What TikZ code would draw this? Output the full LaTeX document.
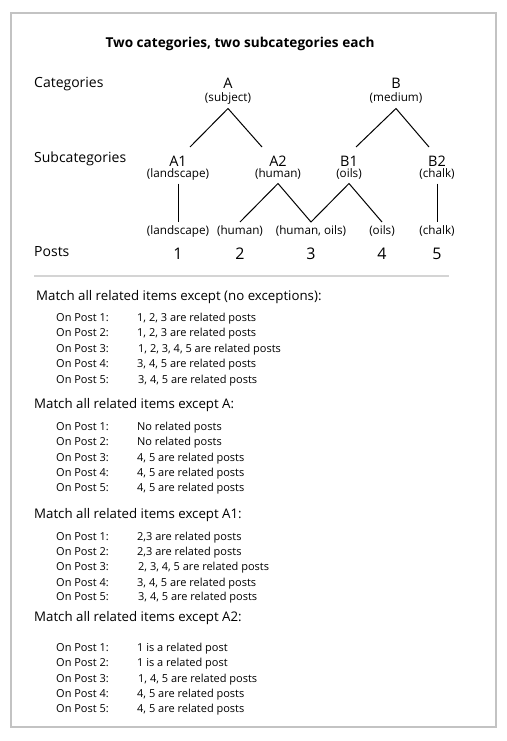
\documentclass[tikz,border=0pt]{standalone}
\usepackage{fontspec}
\setmainfont{Open Sans}
\definecolor{framegray}{RGB}{195,195,195}
\definecolor{rulegray}{RGB}{212,212,212}
\begin{document}
\begin{tikzpicture}[x=1pt,y=-1pt,
  titletext/.style={font=\fontsize{13.6}{16}\selectfont\bfseries, inner sep=0pt, anchor=base},
  sidetext/.style={font=\fontsize{14}{16}\selectfont, inner sep=0pt, anchor=base west},
  letter/.style={font=\fontsize{14.5}{16}\selectfont, inner sep=0pt, anchor=base},
  sublbl/.style={font=\fontsize{11.7}{13}\selectfont, inner sep=0pt, anchor=base, text height=8.5pt, text depth=3pt, outer sep=3.5pt},
  postnum/.style={font=\fontsize{16}{18}\selectfont, inner sep=0pt, anchor=base},
  head/.style={font=\fontsize{13.27}{15}\selectfont, inner sep=0pt, anchor=base west},
  rowl/.style={font=\fontsize{11}{13}\selectfont, inner sep=0pt, anchor=base west},
  conn/.style={line width=1pt, black}
]
\useasboundingbox (0,0) rectangle (506,741);
\draw[framegray, line width=1.3pt] (11,13) rectangle (496,727);

\node[titletext] (title) at (240,48) {Two categories, two subcategories each};

\node[sidetext] (cat) at (34,88) {Categories};
\node[sidetext] (subcat) at (34,162) {Subcategories};
\node[sidetext] (posts) at (34,256) {Posts};

% categories
\node[letter] (A) at (228,89) {A};
\node[sublbl] (Asub) at (228,102) {(subject)};
\node[letter] (B) at (396,89) {B};
\node[sublbl] (Bsub) at (396,102) {(medium)};

% subcategories
\node[letter] (A1) at (178,166) {A1};
\node[sublbl] (A1sub) at (178,177) {(landscape)};
\node[letter] (A2) at (278,166) {A2};
\node[sublbl] (A2sub) at (278,177) {(human)};
\node[letter] (B1) at (349,166) {B1};
\node[sublbl] (B1sub) at (349,177) {(oils)};
\node[letter] (B2) at (437,166) {B2};
\node[sublbl] (B2sub) at (437,177) {(chalk)};

% post tags
\node[sublbl] (t1) at (178,234) {(landscape)};
\node[sublbl] (t2) at (240,234) {(human)};
\node[sublbl] (t3) at (311,234) {(human, oils)};
\node[sublbl] (t4) at (382,234) {(oils)};
\node[sublbl] (t5) at (437,234) {(chalk)};

% post numbers
\node[postnum] (p1) at (178,259) {1};
\node[postnum] (p2) at (240,259) {2};
\node[postnum] (p3) at (311,259) {3};
\node[postnum] (p4) at (382,259) {4};
\node[postnum] (p5) at (437,259) {5};

% connectors
\coordinate (aL) at (190,147);
\coordinate (aR) at (262,147);
\coordinate (bL) at (356,147);
\coordinate (bR) at (429,147);
\draw[conn] (aL) -- (Asub.south) -- (aR);
\draw[conn] (bL) -- (Bsub.south) -- (bR);
\draw[conn] (A1sub.south) -- (t1.north);
\draw[conn] (t2.north) -- (A2sub.south) -- (t3.north) -- (B1sub.south) -- (t4.north);
\draw[conn] (B2sub.south) -- (t5.north);

\draw[rulegray, line width=1.3pt] (34,276) -- (449,276);

% section 1
\node[head] (h1) at (36,300) {Match all related items except (no exceptions):};
\node[rowl] (s1l1) at (56,321) {On Post 1:}; \node[rowl] (s1v1) at (137,321) {1, 2, 3 are related posts};
\node[rowl] (s1l2) at (56,336) {On Post 2:}; \node[rowl] (s1v2) at (137,336) {1, 2, 3 are related posts};
\node[rowl] (s1l3) at (56,352) {On Post 3:}; \node[rowl] (s1v3) at (138,352) {1, 2, 3, 4, 5 are related posts};
\node[rowl] (s1l4) at (56,367) {On Post 4:}; \node[rowl] (s1v4) at (137,367) {3, 4, 5 are related posts};
\node[rowl] (s1l5) at (56,383) {On Post 5:}; \node[rowl] (s1v5) at (138,383) {3, 4, 5 are related posts};

% section 2
\node[head] (h2) at (34,408) {Match all related items except A:};
\node[rowl] (s2l1) at (56,430) {On Post 1:}; \node[rowl] (s2v1) at (137,430) {No related posts};
\node[rowl] (s2l2) at (56,445) {On Post 2:}; \node[rowl] (s2v2) at (137,445) {No related posts};
\node[rowl] (s2l3) at (56,461) {On Post 3:}; \node[rowl] (s2v3) at (137,461) {4, 5 are related posts};
\node[rowl] (s2l4) at (56,476) {On Post 4:}; \node[rowl] (s2v4) at (137,476) {4, 5 are related posts};
\node[rowl] (s2l5) at (56,491) {On Post 5:}; \node[rowl] (s2v5) at (137,491) {4, 5 are related posts};

% section 3
\node[head] (h3) at (34,518) {Match all related items except A1:};
\node[rowl] (s3l1) at (56,540) {On Post 1:}; \node[rowl] (s3v1) at (137,540) {2,3 are related posts};
\node[rowl] (s3l2) at (56,555) {On Post 2:}; \node[rowl] (s3v2) at (137,555) {2,3 are related posts};
\node[rowl] (s3l3) at (56,570) {On Post 3:}; \node[rowl] (s3v3) at (138,570) {2, 3, 4, 5 are related posts};
\node[rowl] (s3l4) at (56,586) {On Post 4:}; \node[rowl] (s3v4) at (137,586) {3, 4, 5 are related posts};
\node[rowl] (s3l5) at (56,600) {On Post 5:}; \node[rowl] (s3v5) at (138,600) {3, 4, 5 are related posts};

% section 4
\node[head] (h4) at (34,621) {Match all related items except A2:};
\node[rowl] (s4l1) at (56,651) {On Post 1:}; \node[rowl] (s4v1) at (137,651) {1 is a related post};
\node[rowl] (s4l2) at (56,666) {On Post 2:}; \node[rowl] (s4v2) at (137,666) {1 is a related post};
\node[rowl] (s4l3) at (56,682) {On Post 3:}; \node[rowl] (s4v3) at (138,682) {1, 4, 5 are related posts};
\node[rowl] (s4l4) at (56,697) {On Post 4:}; \node[rowl] (s4v4) at (137,697) {4, 5 are related posts};
\node[rowl] (s4l5) at (56,712) {On Post 5:}; \node[rowl] (s4v5) at (137,712) {4, 5 are related posts};
\end{tikzpicture}
\end{document}
